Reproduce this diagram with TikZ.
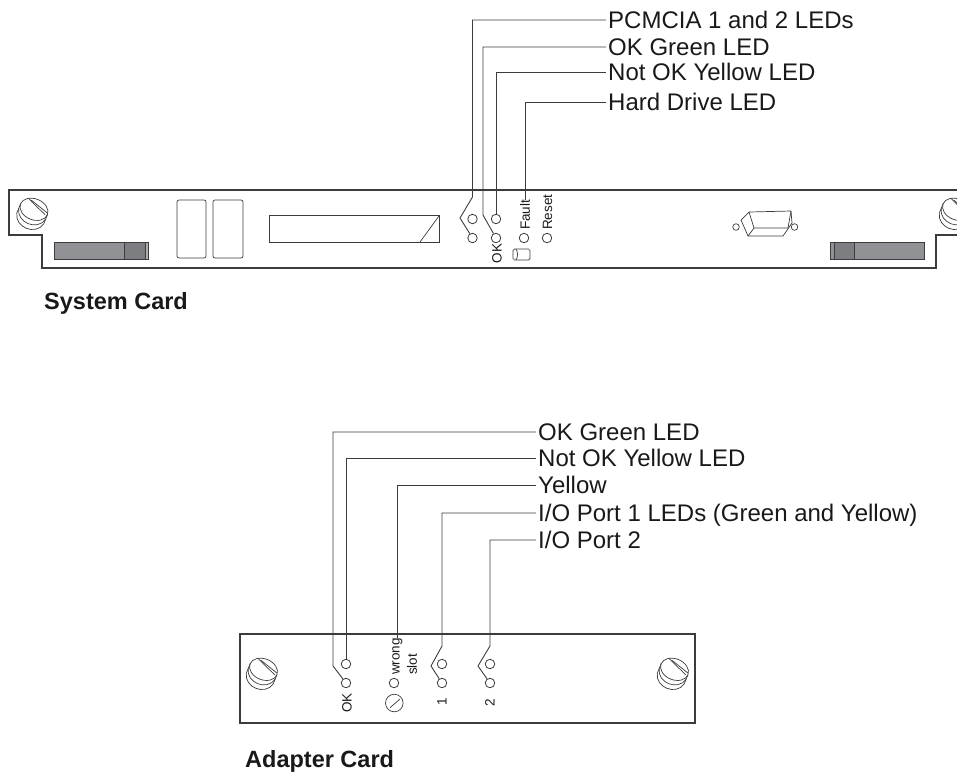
\documentclass[tikz,border=0pt]{standalone}
\usepackage{fontspec}
\setmainfont{Liberation Sans}
\definecolor{mylin1}{RGB}{60,60,62}
\definecolor{mygri1}{RGB}{145,146,149}
\definecolor{mygri2}{RGB}{125,126,129}
\definecolor{mygri3}{RGB}{175,176,178}
\usetikzlibrary{positioning}
\tikzstyle{label} = [anchor=west, inner ysep=0pt, inner xsep=2pt, text height=17pt, text depth=0pt, font=\fontsize{24}{28}\selectfont, text=black!90]
\tikzstyle{title} = [anchor=west, inner sep=0pt, text height=17pt, text depth=0pt, font=\fontsize{23.5}{28}\bfseries\selectfont, text=black!90]
\tikzstyle{small} = [anchor=west, rotate=90, inner sep=0pt, font=\fontsize{13.5}{16}\selectfont, text=black!90]
\tikzstyle{led} = [circle, draw=mylin1, line width=0.8pt, inner sep=0pt, minimum size=9.5pt]
\tikzstyle{leader} = [line width=0.9pt, mylin1]
\tikzstyle{part} = [line width=0.7pt, mylin1]
\tikzstyle{card} = [line width=1.1pt, mylin1]
\tikzset{
	screw/.pic={
		\begin{scope}[rotate=-22, line width=0.7pt, mylin1]
		\draw (0,-4) ellipse [x radius=14.5, y radius=10.5];
		\draw (-14.5,-4) -- (-14.5,6);
		\draw (14.5,-4) -- (14.5,6);
		\draw (-14.5,1) .. controls (-11,15) and (11,15) .. (14.5,1);
		\draw (-14.5,6) .. controls (-11,20) and (11,20) .. (14.5,6);
		\draw (-9,-12) -- (12.5,-3);
		\draw (-6,-11.5) -- (14,-5.5);
		\end{scope}
	}
}
\begin{document}
\begin{tikzpicture}[x=1pt,y=-1pt]
	\useasboundingbox (0,0) rectangle (957,772);
	% system card
	\draw [card] (957,190) -- (9,190) -- (9,235) -- (42,235) -- (42,268) -- (936,268) -- (936,235) -- (957,235);
	\pic at (32.5,213) {screw};
	\pic at (955,213) {screw};
	\draw [part, fill=mygri1] (54,242) rectangle (148,259);
	\draw [part, fill=mygri2] (124,242) rectangle (145,259);
	\fill [mygri3] (145.5,242.5) rectangle (147.5,258.5);
	\draw [part, fill=mygri1] (830,242) rectangle (924,259);
	\draw [part, fill=mygri2] (834,242) rectangle (854,259);
	\draw [part, rounded corners=2pt] (177,200) rectangle (206,258);
	\draw [part, rounded corners=2pt] (213,200) rectangle (243,258);
	\draw [part] (269,215) rectangle (439,242);
	\draw [part] (420,242) -- (439,216);
	% serial connector
	\draw [part] (749,212) -- (791,211) -- (792,223) -- (783,236) -- (748,236) -- (741,220) -- cycle;
	\draw [part] (749,212) -- (754,228) -- (788,228) -- (791,211);
	\draw [part] (754,228) -- (748,236);
	\draw [part] (736,227) circle (3.3);
	\draw [part] (794.5,227) circle (3.3);
	% leds of the system card
	\node (pcmcia1) [led] at (472.5,219) {};
	\node (pcmcia2) [led] at (472.5,238) {};
	\node (ok1) [led] at (496,219) {};
	\node (ok2) [led] at (496,238) {};
	\node (fault) [led] at (524,238) {};
	\node (reset) [led] at (547,238) {};
	\node (faulttxt) [small] at (525,230) {Fault};
	\node (resettxt) [small] at (547.5,230) {Reset};
	\node (oktxt) [small] at (497,263.5) {OK};
	\draw [part, rounded corners=1.5pt] (513,249) rectangle (530,260);
	\draw [part] (516,249) .. controls (518,252) and (518,257) .. (516,260);
	% labels of the system card
	\node (lpcmcia) [label] at (606,20) {PCMCIA 1 and 2 LEDs};
	\node (lok) [label] at (606,47) {OK Green LED};
	\node (lnot) [label] at (606,72) {Not OK Yellow LED};
	\node (lhard) [label] at (606,102) {Hard Drive LED};
	\node (lsystem) [title] at (44,301) {System Card};
	\coordinate (b1) at (472.5,197);
	\coordinate (b2) at (460,218);
	\coordinate (b3) at (483,215);
	\draw [leader] (lpcmcia) -| (b1) -- (b2) -- (pcmcia2);
	\draw [leader] (lok) -| (b3) -- (ok2);
	\draw [leader] (lnot) -| (ok1);
	\draw [leader] (lhard) -| (faulttxt.east);
	% adapter card
	\node (adapter) [card, draw, inner sep=0pt, minimum width=455pt, minimum height=89pt] at (467.5,678.5) {};
	\pic at (262,673) {screw};
	\pic at (673,673) {screw};
	\node (a1) [led] at (346,664) {};
	\node (a2) [led] at (346,683) {};
	\node (w1) [led] at (394,683) {};
	\node (p1) [led] at (442,664) {};
	\node (p2) [led] at (442,683) {};
	\node (q1) [led] at (490,664) {};
	\node (q2) [led] at (490,683) {};
	\node (wrongtxt) [small] at (397.5,675) {wrong};
	\node (slottxt) [small] at (412,675) {slot};
	\node (oktxt2) [small] at (347,713) {OK};
	\node (one) [small] at (442,705.5) {1};
	\node (two) [small] at (490,707) {2};
	\node (knob) [circle, part, draw, inner sep=0pt, minimum size=17.6pt] at (394.3,703) {};
	\draw [part] (390,707.7) -- (400,699);
	% labels of the adapter card
	\node (lok2) [label] at (536,432) {OK Green LED};
	\node (lnot2) [label] at (536,458) {Not OK Yellow LED};
	\node (lyel) [label] at (536,485) {Yellow};
	\node (lio1) [label] at (536,513) {I/O Port 1 LEDs (Green and Yellow)};
	\node (lio2) [label] at (536,540) {I/O Port 2};
	\node (ladapter) [title] at (245,758.5) {Adapter Card};
	\coordinate (c1) at (333,666);
	\coordinate (c2) at (442,646);
	\coordinate (c3) at (431,666);
	\coordinate (c4) at (490,646);
	\coordinate (c5) at (478,666);
	\draw [leader] (lok2) -| (c1) -- (a2);
	\draw [leader] (lnot2) -| (a1);
	\draw [leader] (lyel) -| (wrongtxt.east);
	\draw [leader] (lio1) -| (c2) -- (c3) -- (p2);
	\draw [leader] (lio2) -| (c4) -- (c5) -- (q2);
\end{tikzpicture}
\end{document}
